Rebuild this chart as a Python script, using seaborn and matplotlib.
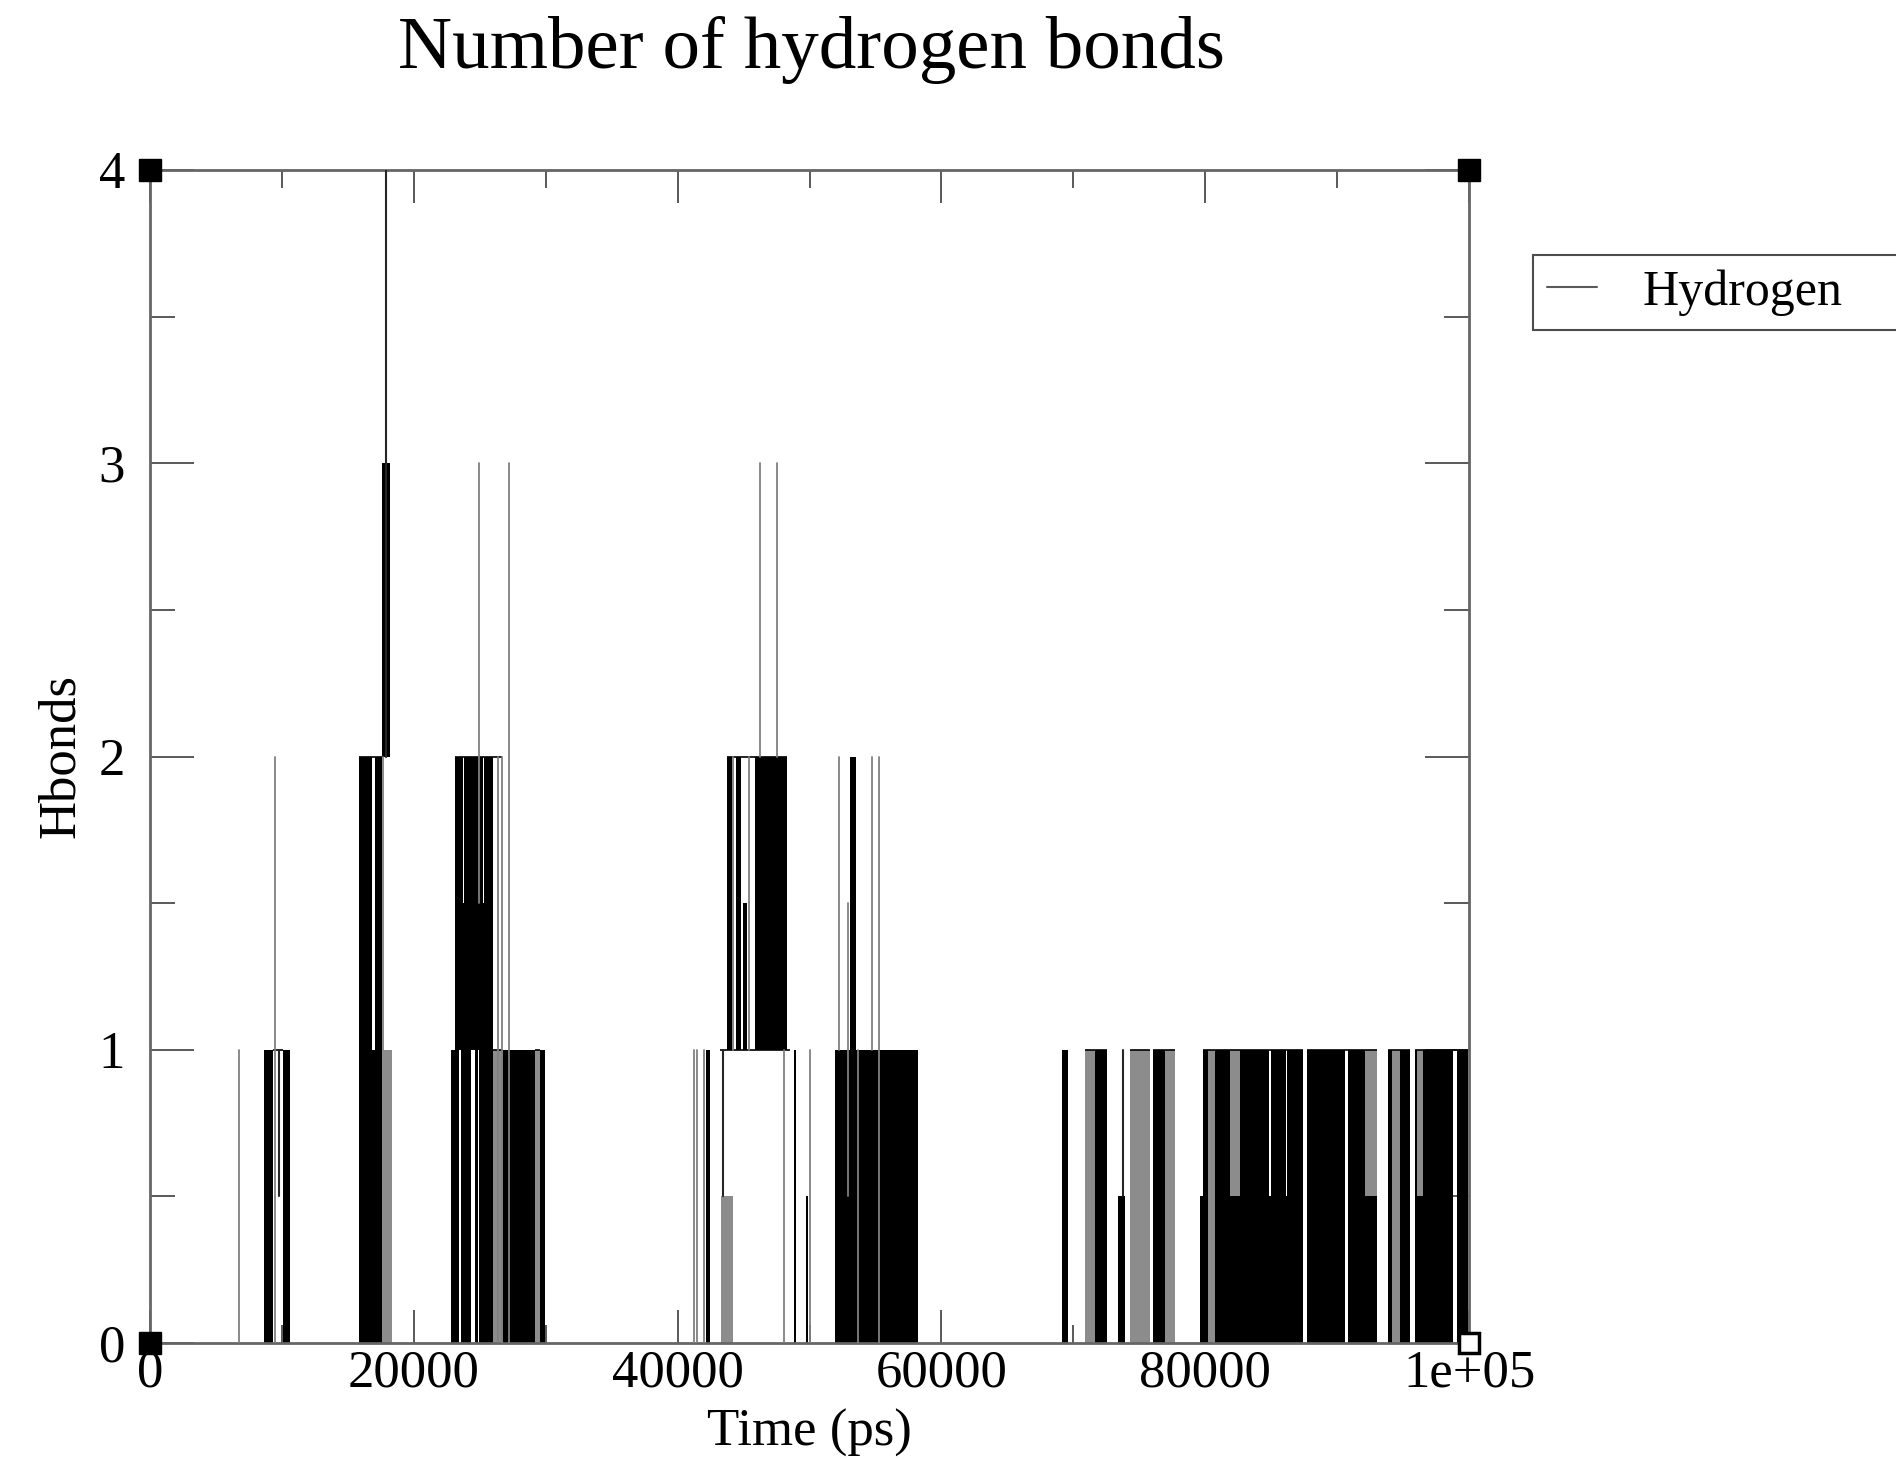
import numpy as np
import pandas as pd
import matplotlib
matplotlib.use("Agg")
import matplotlib.pyplot as plt
from matplotlib.lines import Line2D
from matplotlib.ticker import MultipleLocator
import seaborn as sns

# stretches where the count flickers so fast the trace looks solid (ps, ps, hbonds, hbonds)
block_start = [8670, 10110, 15870, 16800, 17060, 17600,
               22800, 23120, 23120, 23820, 25330, 23550, 24650, 24920, 26790, 29570,
               42150, 43720, 44450, 44990, 45870, 48800, 49700, 51940, 53100,
               69120, 71650, 73420, 75060, 76070, 77500, 79610, 79860, 80750, 81880,
               82640, 84850, 84970, 86130, 86230, 87700, 90860, 92120, 93890, 94780,
               95910, 96040, 96550, 99070]
block_end = [9350, 10620, 16800, 17060, 17560, 18200,
             23450, 26030, 23700, 25210, 26030, 24350, 24850, 26030, 29190, 29950,
             42450, 44100, 44800, 45250, 48270, 49000, 49900, 58260, 53500,
             69630, 72530, 73920, 75440, 76950, 77720, 79860, 80240, 81880, 82640,
             84850, 84970, 86130, 86230, 87400, 90600, 92120, 93010, 94140, 95530,
             96040, 96550, 98820, 99950]
block_low = [0, 0, 0, 0, 0, 2,
             0, 1, 1.5, 1.5, 1.5, 0, 0, 0, 0, 0,
             0, 1, 1, 1, 1, 0, 0, 0, 1,
             0, 0, 0, 0, 0, 0, 0, 0, 0, 0,
             0, 0, 0, 0, 0, 0, 0, 0, 0, 0,
             0, 0, 0, 0]
block_high = [1, 1, 2, 1, 2, 3,
              1, 1.5, 2, 2, 2, 1, 1, 1, 1, 1,
              1, 2, 2, 1.5, 2, 1, 0.5, 1, 2,
              1, 1, 0.5, 0.5, 1, 0.5, 0.5, 1, 1, 0.5,
              1, 0.5, 1, 0.5, 1, 1, 1, 0.5, 1, 1,
              1, 0.5, 1, 1]

# looser stretches (gray in the original)
faint_start = [17560, 26030, 29190, 43300, 70890, 74300, 76950, 80240, 81880, 92120, 94140, 96040]
faint_end = [18320, 26790, 29570, 44200, 71650, 75820, 77720, 80750, 82640, 93010, 94780, 96550]
faint_low = [0, 0, 0, 0, 0, 0, 0, 0, 0.5, 0.5, 0, 0.5]
faint_high = [1, 1, 1, 0.5, 1, 1, 1, 1, 1, 1, 1, 1]

# single frames
spike_time = [6750, 9480, 17700, 24970, 26410, 26710, 27240,
              41250, 41500, 42000, 44230, 45400, 46250, 47510, 48050, 50050,
              52260, 52950, 53700, 54720, 55300]
spike_low = [0, 0, 1, 1.5, 0, 0, 0,
             0, 0, 0, 1, 1, 2, 2, 0, 0,
             1, 0.5, 0, 1, 0]
spike_high = [1, 2, 2, 3, 2, 2, 3,
              1, 1, 1, 2, 2, 3, 3, 1, 1,
              2, 1.5, 1, 2, 2]

dark_time = [9800, 17890, 43470, 73780]
dark_low = [0.5, 2, 0.5, 0.5]
dark_high = [1, 4, 1, 1]

# runs where the count holds steady
plateau_start = [9350, 15870, 23120, 26030, 29190, 43220, 43720,
                 70890, 74300, 76070, 79860, 87700, 93890, 95910]
plateau_end = [10110, 17560, 26710, 26790, 29570, 48530, 48270,
               72530, 75820, 77720, 87440, 93010, 95530, 99950]
plateau_level = [1, 2, 2, 1, 1, 1, 2,
                 1, 1, 1, 1, 1, 1, 1]

x_ticks = [0, 20000, 40000, 60000, 80000, 100000]
x_tick_labels = ["0", "20000", "40000", "60000", "80000", "1e+05"]
y_ticks = [0, 1, 2, 3, 4]

corner_x = [0, 100000, 0]
corner_y = [4, 4, 0]
open_corner_x = [100000]
open_corner_y = [0]


def spike_frame(times, lows, highs):
    rows = []
    for i, (t, lo, hi) in enumerate(zip(times, lows, highs)):
        rows.append({"time": t, "hbonds": lo, "frame": i})
        rows.append({"time": t, "hbonds": hi, "frame": i})
    return pd.DataFrame(rows)


sns.set_theme(style="ticks")
plt.rcParams["font.family"] = ["Liberation Serif", "DejaVu Serif"]
plt.rcParams["text.color"] = "black"
plt.rcParams["xtick.color"] = "0.35"
plt.rcParams["ytick.color"] = "0.35"
plt.rcParams["xtick.labelcolor"] = "black"
plt.rcParams["ytick.labelcolor"] = "black"

W, H = 1896, 1460
fig = plt.figure(figsize=(W / 100, H / 100), dpi=100)
ax = fig.add_axes([150 / W, 1 - 1343 / H, (1469 - 150) / W, (1343 - 170) / H])

widths = np.array(block_end) - np.array(block_start)
heights = np.array(block_high) - np.array(block_low)
ax.bar(block_start, heights, width=widths, bottom=block_low, align="edge",
       color="black", linewidth=0, zorder=2)

fwidths = np.array(faint_end) - np.array(faint_start)
fheights = np.array(faint_high) - np.array(faint_low)
ax.bar(faint_start, fheights, width=fwidths, bottom=faint_low, align="edge",
       color="0.55", linewidth=0, zorder=2)

ax.hlines(plateau_level, plateau_start, plateau_end, color="black", lw=1.2, zorder=3)

sns.lineplot(data=spike_frame(spike_time, spike_low, spike_high), x="time", y="hbonds",
             units="frame", estimator=None, sort=False, color="0.5", lw=1.3,
             legend=False, ax=ax, zorder=4)
sns.lineplot(data=spike_frame(dark_time, dark_low, dark_high), x="time", y="hbonds",
             units="frame", estimator=None, sort=False, color="0.15", lw=1.5,
             legend=False, ax=ax, zorder=4)

ax.plot(corner_x, corner_y, "s", color="black", ms=16, clip_on=False, zorder=6)
ax.plot(open_corner_x, open_corner_y, "s", mfc="white", mec="black", mew=2.5, ms=14,
        clip_on=False, zorder=6)

ax.set_xlim(0, 100000)
ax.set_ylim(0, 4)
ax.set_xticks(x_ticks)
ax.set_xticklabels(x_tick_labels)
ax.set_yticks(y_ticks)
ax.set_yticklabels([str(v) for v in y_ticks])
ax.xaxis.set_minor_locator(MultipleLocator(10000))
ax.yaxis.set_minor_locator(MultipleLocator(0.5))
ax.tick_params(axis="x", which="major", direction="in", length=24, width=1.4,
               top=True, bottom=True, pad=5, labelsize=38)
ax.tick_params(axis="x", which="minor", direction="in", length=13, width=1.4,
               top=True, bottom=True)
ax.tick_params(axis="y", which="major", direction="in", length=32, width=1.4,
               left=True, right=True, pad=18, labelsize=38)
ax.tick_params(axis="y", which="minor", direction="in", length=18, width=1.4,
               left=True, right=True)
for s in ax.spines.values():
    s.set_color("0.4")
    s.set_linewidth(2.0)
ax.set_xlabel("")
ax.set_ylabel("")

fig.text(811 / W, 1 - 68 / H, "Number of hydrogen bonds", ha="center", va="baseline",
         fontsize=54)
fig.text(809 / W, 1 - 1446 / H, "Time (ps)", ha="center", va="baseline", fontsize=38)
fig.text(85 / W, 1 - 756 / H, "Hbonds", rotation=90, ha="right", va="center", fontsize=38)

handle = Line2D([0], [0], color="0.35", lw=1.5)
leg = ax.legend([handle], ["Hydrogen"], loc="upper left", mode="expand",
                bbox_to_anchor=(1533 / W, 1 - 255 / H, (1905 - 1533) / W, 0),
                bbox_transform=fig.transFigure,
                frameon=True, fancybox=False, edgecolor="0.3", framealpha=1,
                borderpad=0.28, handlelength=1.0, handletextpad=0.9, fontsize=36,
                borderaxespad=0)
leg.get_frame().set_linewidth(1.5)

fig.savefig("out.png", dpi=100)
